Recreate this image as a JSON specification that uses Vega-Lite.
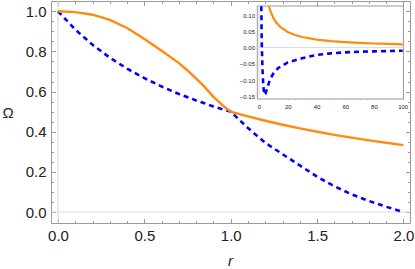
{
  "$schema": "https://vega.github.io/schema/vega-lite/v6.json",
  "width": 359,
  "height": 222,
  "autosize": {"type": "none"},
  "padding": {"left": 51, "top": 1, "right": 5, "bottom": 46},
  "config": {
    "view": {"stroke": "#9a9a9a", "strokeWidth": 1},
    "axis": {"grid": false, "domain": false, "tickColor": "#9a9a9a", "tickWidth": 1, "labelFont": "Liberation Sans", "labelColor": "#222222", "labelFlush": false, "labelOverlap": false, "titleFont": "Liberation Sans", "titleFontWeight": "normal", "titleColor": "#222222"}
  },
  "datasets": {
    "orangeMain": [
      {"r": 0, "omega": 1.0}, {"r": 0.1, "omega": 0.996}, {"r": 0.2, "omega": 0.983}, {"r": 0.3, "omega": 0.957},
      {"r": 0.4, "omega": 0.917}, {"r": 0.5, "omega": 0.862}, {"r": 0.6, "omega": 0.803}, {"r": 0.7, "omega": 0.742},
      {"r": 0.75, "omega": 0.705}, {"r": 0.8, "omega": 0.664}, {"r": 0.85, "omega": 0.622}, {"r": 0.9, "omega": 0.574},
      {"r": 0.95, "omega": 0.534}, {"r": 0.975, "omega": 0.516}, {"r": 1.0, "omega": 0.5},
      {"r": 1.05, "omega": 0.4878}, {"r": 1.1, "omega": 0.4762}, {"r": 1.2, "omega": 0.4545}, {"r": 1.3, "omega": 0.4348},
      {"r": 1.4, "omega": 0.4167}, {"r": 1.5, "omega": 0.4}, {"r": 1.6, "omega": 0.3846}, {"r": 1.7, "omega": 0.3704},
      {"r": 1.8, "omega": 0.3571}, {"r": 1.9, "omega": 0.3448}, {"r": 2.0, "omega": 0.3333}
    ],
    "blueMain": [
      {"r": 0, "omega": 1.0}, {"r": 0.1, "omega": 0.909}, {"r": 0.2, "omega": 0.833}, {"r": 0.3, "omega": 0.769},
      {"r": 0.4, "omega": 0.714}, {"r": 0.5, "omega": 0.667}, {"r": 0.6, "omega": 0.625}, {"r": 0.7, "omega": 0.588},
      {"r": 0.8, "omega": 0.556}, {"r": 0.9, "omega": 0.526}, {"r": 1.0, "omega": 0.5},
      {"r": 1.1, "omega": 0.418}, {"r": 1.2, "omega": 0.345}, {"r": 1.3, "omega": 0.288}, {"r": 1.4, "omega": 0.232},
      {"r": 1.5, "omega": 0.176}, {"r": 1.6, "omega": 0.128}, {"r": 1.7, "omega": 0.088}, {"r": 1.8, "omega": 0.055},
      {"r": 1.9, "omega": 0.026}, {"r": 2.0, "omega": 0.0}
    ],
    "orangeInset": [
      {"r": 6.9, "omega": 0.127}, {"r": 8, "omega": 0.111}, {"r": 10, "omega": 0.0909}, {"r": 12, "omega": 0.0769},
      {"r": 15, "omega": 0.0625}, {"r": 20, "omega": 0.0476}, {"r": 25, "omega": 0.0385}, {"r": 30, "omega": 0.0323},
      {"r": 40, "omega": 0.0244}, {"r": 50, "omega": 0.0196}, {"r": 60, "omega": 0.0164}, {"r": 70, "omega": 0.0141},
      {"r": 80, "omega": 0.0123}, {"r": 90, "omega": 0.011}, {"r": 100, "omega": 0.0099}
    ],
    "blueInset": [
      {"r": 1.6, "omega": 0.127}, {"r": 1.8, "omega": 0.055}, {"r": 2.0, "omega": 0.0}, {"r": 2.5, "omega": -0.075},
      {"r": 3.0, "omega": -0.118}, {"r": 3.7, "omega": -0.146}, {"r": 4.5, "omega": -0.142}, {"r": 5.5, "omega": -0.128},
      {"r": 7.65, "omega": -0.098}, {"r": 10, "omega": -0.08}, {"r": 13.4, "omega": -0.063}, {"r": 20, "omega": -0.046},
      {"r": 30, "omega": -0.033}, {"r": 40, "omega": -0.023}, {"r": 50, "omega": -0.018}, {"r": 60, "omega": -0.015},
      {"r": 70, "omega": -0.013}, {"r": 80, "omega": -0.012}, {"r": 90, "omega": -0.0108}, {"r": 100, "omega": -0.0098}
    ],
    "zero": [{"v": 0}]
  },
  "layer": [
    {
      "data": {"name": "zero"},
      "mark": {"type": "rule", "color": "#dddddd", "strokeWidth": 1.2},
      "encoding": {"y": {"field": "v", "type": "quantitative", "scale": {"domain": [-0.0548, 1.0513], "nice": false, "zero": false}, "axis": null}}
    },
    {
      "data": {"name": "zero"},
      "mark": {"type": "rule", "color": "#dddddd", "strokeWidth": 1.2},
      "encoding": {"x": {"field": "v", "type": "quantitative", "scale": {"domain": [-0.0405, 2.0377], "nice": false, "zero": false}, "axis": null}}
    },
    {
      "data": {"name": "blueMain"},
      "mark": {"type": "line", "color": "#0000ff", "strokeWidth": 2.6, "strokeDash": [5, 4]},
      "encoding": {
        "x": {"field": "r", "type": "quantitative", "scale": {"domain": [-0.0405, 2.0377], "nice": false, "zero": false},
          "axis": {"orient": "top", "labels": false, "title": null,
            "values": [0,0.1,0.2,0.3,0.4,0.5,0.6,0.7,0.8,0.9,1,1.1,1.2,1.3,1.4,1.5,1.6,1.7,1.8,1.9,2],
            "tickSize": {"condition": {"test": "abs(round(datum.value*10)) % 5 === 0", "value": -4.5}, "value": -2.5}}},
        "y": {"field": "omega", "type": "quantitative", "scale": {"domain": [-0.0548, 1.0513], "nice": false, "zero": false},
          "axis": {"orient": "right", "labels": false, "title": null,
            "values": [0,0.05,0.1,0.15,0.2,0.25,0.3,0.35,0.4,0.45,0.5,0.55,0.6,0.65,0.7,0.75,0.8,0.85,0.9,0.95,1],
            "tickSize": {"condition": {"test": "abs(round(datum.value*100)) % 20 === 0", "value": -4.5}, "value": -2.5}}}
      }
    },
    {
      "data": {"name": "orangeMain"},
      "mark": {"type": "line", "color": "#ff8a12", "strokeWidth": 2.4},
      "encoding": {
        "x": {"field": "r", "type": "quantitative", "scale": {"domain": [-0.0405, 2.0377], "nice": false, "zero": false},
          "axis": {"orient": "bottom", "format": ".1f",
            "values": [0,0.1,0.2,0.3,0.4,0.5,0.6,0.7,0.8,0.9,1,1.1,1.2,1.3,1.4,1.5,1.6,1.7,1.8,1.9,2],
            "labelExpr": "abs(round(datum.value*10)) % 5 === 0 ? datum.label : ''",
            "tickSize": {"condition": {"test": "abs(round(datum.value*10)) % 5 === 0", "value": -4.5}, "value": -2.5},
            "labelPadding": 9.5, "labelFontSize": 15,
            "title": "r", "titleFontSize": 15, "titleFontStyle": "italic", "titleX": 179, "titleY": 42,
            "titleBaseline": "alphabetic", "titleAlign": "center", "titleAngle": 0}},
        "y": {"field": "omega", "type": "quantitative", "scale": {"domain": [-0.0548, 1.0513], "nice": false, "zero": false},
          "axis": {"orient": "left", "format": ".1f",
            "values": [0,0.05,0.1,0.15,0.2,0.25,0.3,0.35,0.4,0.45,0.5,0.55,0.6,0.65,0.7,0.75,0.8,0.85,0.9,0.95,1],
            "labelExpr": "abs(round(datum.value*100)) % 20 === 0 ? datum.label : ''",
            "tickSize": {"condition": {"test": "abs(round(datum.value*100)) % 20 === 0", "value": -4.5}, "value": -2.5},
            "labelPadding": 9.5, "labelFontSize": 15,
            "title": "Ω", "titleFontSize": 15, "titleX": -43.5, "titleY": 116, "titleBaseline": "alphabetic",
            "titleAlign": "center", "titleAngle": 0}}
      }
    },
    {
      "data": {"name": "zero"},
      "mark": {"type": "rect", "fill": "white", "stroke": "#9a9a9a", "strokeWidth": 1},
      "encoding": {
        "x": {"datum": -1.18, "type": "quantitative", "scale": {"domain": [-144.75, 105.08], "nice": false, "zero": false},
          "axis": {"orient": "bottom", "offset": -124, "format": "d",
            "values": [0,5,10,15,20,25,30,35,40,45,50,55,60,65,70,75,80,85,90,95,100],
            "labelExpr": "datum.value % 20 === 0 ? datum.label : ''",
            "tickSize": {"condition": {"test": "datum.value % 20 === 0", "value": -3}, "value": -1.8},
            "labelPadding": 7, "labelFontSize": 6, "title": null}},
        "x2": {"datum": 100.5},
        "y": {"datum": -0.1585, "type": "quantitative", "scale": {"domain": [-0.54, 0.1431], "nice": false, "zero": false},
          "axis": {"orient": "left", "offset": -206.5, "format": ".2f",
            "values": [-0.15,-0.14,-0.13,-0.12,-0.11,-0.1,-0.09,-0.08,-0.07,-0.06,-0.05,-0.04,-0.03,-0.02,-0.01,0,0.01,0.02,0.03,0.04,0.05,0.06,0.07,0.08,0.09,0.1,0.11,0.12],
            "labelExpr": "abs(round(datum.value*100)) % 5 === 0 ? datum.label : ''",
            "tickSize": {"condition": {"test": "abs(round(datum.value*100)) % 5 === 0", "value": -3}, "value": -1.8},
            "labelPadding": 6, "labelFontSize": 6, "title": null}},
        "y2": {"datum": 0.1277}
      }
    },
    {
      "data": {"name": "zero"},
      "mark": {"type": "rule", "color": "#dddddd", "strokeWidth": 1},
      "encoding": {
        "x": {"datum": -1.18, "type": "quantitative", "scale": {"domain": [-144.75, 105.08], "nice": false, "zero": false}, "axis": null},
        "x2": {"datum": 100.5},
        "y": {"field": "v", "type": "quantitative", "scale": {"domain": [-0.54, 0.1431], "nice": false, "zero": false}, "axis": null}
      }
    },
    {
      "data": {"name": "zero"},
      "mark": {"type": "rule", "color": "#dddddd", "strokeWidth": 1},
      "encoding": {
        "x": {"field": "v", "type": "quantitative", "scale": {"domain": [-144.75, 105.08], "nice": false, "zero": false}, "axis": null},
        "y": {"datum": -0.1585, "type": "quantitative", "scale": {"domain": [-0.54, 0.1431], "nice": false, "zero": false}, "axis": null},
        "y2": {"datum": 0.1277}
      }
    },
    {
      "data": {"name": "orangeInset"},
      "mark": {"type": "line", "color": "#ff8a12", "strokeWidth": 2.2},
      "encoding": {
        "x": {"field": "r", "type": "quantitative", "scale": {"domain": [-144.75, 105.08], "nice": false, "zero": false}, "axis": null},
        "y": {"field": "omega", "type": "quantitative", "scale": {"domain": [-0.54, 0.1431], "nice": false, "zero": false}, "axis": null}
      }
    },
    {
      "data": {"name": "blueInset"},
      "mark": {"type": "line", "color": "#0000ff", "strokeWidth": 2.6, "strokeDash": [5, 4]},
      "encoding": {
        "x": {"field": "r", "type": "quantitative", "scale": {"domain": [-144.75, 105.08], "nice": false, "zero": false},
          "axis": {"orient": "top", "offset": -5, "labels": false, "title": null,
            "values": [0,5,10,15,20,25,30,35,40,45,50,55,60,65,70,75,80,85,90,95,100],
            "tickSize": {"condition": {"test": "datum.value % 20 === 0", "value": -3}, "value": -1.8}}},
        "y": {"field": "omega", "type": "quantitative", "scale": {"domain": [-0.54, 0.1431], "nice": false, "zero": false},
          "axis": {"orient": "right", "offset": -7, "labels": false, "title": null,
            "values": [-0.15,-0.14,-0.13,-0.12,-0.11,-0.1,-0.09,-0.08,-0.07,-0.06,-0.05,-0.04,-0.03,-0.02,-0.01,0,0.01,0.02,0.03,0.04,0.05,0.06,0.07,0.08,0.09,0.1,0.11,0.12],
            "tickSize": {"condition": {"test": "abs(round(datum.value*100)) % 5 === 0", "value": -3}, "value": -1.8}}}
      }
    }
  ],
  "resolve": {"scale": {"x": "independent", "y": "independent"}}
}
